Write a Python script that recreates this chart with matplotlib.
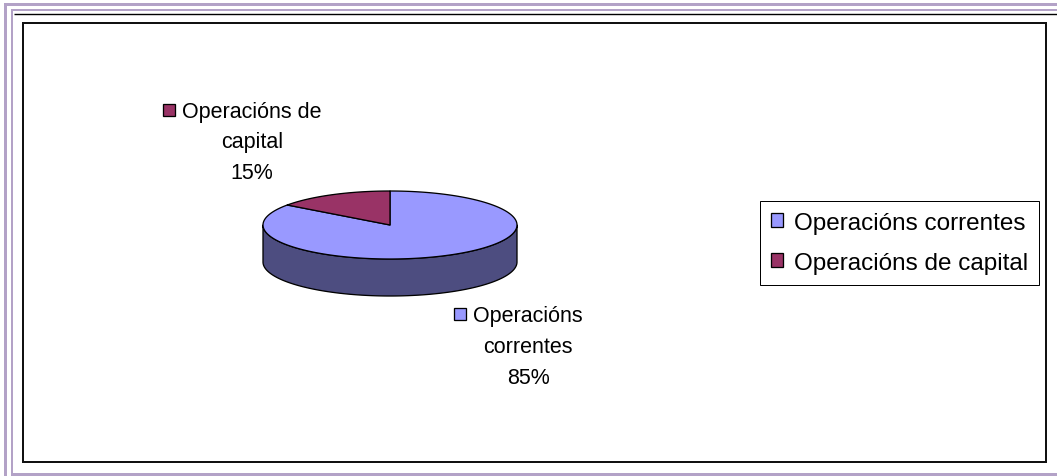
import textwrap
import numpy as np
import matplotlib
matplotlib.use("Agg")
import matplotlib.pyplot as plt
from matplotlib.patches import Polygon, Rectangle, Patch

# ---------------- data ----------------
categories = ["Operacións correntes", "Operacións de capital"]
values = [85, 15]
colors = ["#9999FF", "#993366"]

plt.rcParams["font.family"] = ["Liberation Sans", "DejaVu Sans"]

W, H = 1057, 477
fig = plt.figure(figsize=(W / 100, H / 100), dpi=100)
ax = fig.add_axes([0, 0, 1, 1])
ax.set_xlim(0, W)
ax.set_ylim(H, 0)
ax.axis("off")

PX = 0.72  # one pixel in points

# ---------------- decorative page border ----------------
purple = "#B3A2C7"
ax.add_patch(Rectangle((4, 4), W - 4, 3.2, color=purple, lw=0))
ax.add_patch(Rectangle((4, 4), 3.2, H - 4, color=purple, lw=0))
ax.add_patch(Rectangle((10.5, 9.5), W - 10.5, 2.2, color=purple, lw=0))
ax.add_patch(Rectangle((10.5, 9.5), 2.4, H - 9.5, color=purple, lw=0))
ax.add_patch(Rectangle((10.5, 474), W - 10.5, 3, color=purple, lw=0))
ax.plot([14, W], [14.5, 14.5], color="black", lw=1.4 * PX, solid_capstyle="butt")
# chart area frame
ax.add_patch(Rectangle((23, 24), 1023, 439, fill=False, ec="#111111", lw=2 * PX))

# ---------------- 3D pie ----------------
cx, cy, a, b, depth = 390, 226, 127, 34, 37
total = float(sum(values))
cum = np.concatenate([[0], np.cumsum(values)]) / total
starts = 90 - 360 * cum[:-1]
ends = 90 - 360 * cum[1:]


def ell(t_deg, dy=0.0):
    t = np.radians(t_deg)
    return cx + a * np.cos(t), cy - b * np.sin(t) + dy


def darker(c, f=0.5):
    r, g, bb = matplotlib.colors.to_rgb(c)
    return (r * f, g * f, bb * f)


edge_lw = 1.3 * PX
# side walls (front half only)
for s, e, col in zip(starts, ends, colors):
    lo, hi = min(s, e), max(s, e)
    for k in range(-2, 3):
        f0, f1 = -180 + 360 * k, 0 + 360 * k
        l2, h2 = max(lo, f0), min(hi, f1)
        if h2 - l2 <= 0:
            continue
        tt = np.linspace(l2, h2, 200)
        xt, yt = ell(tt)
        xb, yb = ell(tt[::-1], depth)
        poly = np.column_stack([np.concatenate([xt, xb]), np.concatenate([yt, yb])])
        ax.add_patch(Polygon(poly, closed=True, fc=darker(col), ec="black", lw=edge_lw,
                             joinstyle="round"))

# top faces
for s, e, col in zip(starts, ends, colors):
    tt = np.linspace(s, e, 300)
    xt, yt = ell(tt)
    poly = np.column_stack([np.concatenate([[cx], xt]), np.concatenate([[cy], yt])])
    ax.add_patch(Polygon(poly, closed=True, fc=col, ec="black", lw=edge_lw,
                         joinstyle="round"))

# ---------------- data labels ----------------
label_pos = [(528, 322, 31.0), (252, 118, 30.5)]  # center x, first baseline, line pitch
lab_fs = 15.5
renderer = fig.canvas.get_renderer()
for cat, v, col, (lx, ly, pitch) in zip(categories, values, colors, label_pos):
    lines = textwrap.wrap(cat, width=13) + [f"{round(100 * v / total):.0f}%"]
    first = None
    for i, line in enumerate(lines):
        t = ax.text(lx, ly + i * pitch, line, ha="center", va="baseline",
                    fontsize=lab_fs, color="black")
        if i == 0:
            first = t
    bb = first.get_window_extent(renderer=renderer)
    x0 = ax.transData.inverted().transform((bb.x0, bb.y0))[0]
    sq = 12
    ax.add_patch(Rectangle((x0 - 7.5 - sq, ly - 13), sq, sq, fc=col, ec="black",
                           lw=1.3 * PX))

# ---------------- legend ----------------
handles = [Patch(fc=c, ec="black", lw=1.3 * PX) for c in colors]
leg_fs = 17.5
fs_px = leg_fs / 0.72
leg = ax.legend(handles, categories, loc="upper left",
                bbox_to_anchor=(760 / W, 1 - 202 / H), bbox_transform=fig.transFigure,
                fontsize=leg_fs, frameon=True, fancybox=False, shadow=False,
                edgecolor="black", framealpha=1,
                handlelength=12 / fs_px, handleheight=12 / fs_px,
                handletextpad=11 / fs_px, borderpad=0.45, labelspacing=0.74,
                borderaxespad=0)
leg.get_frame().set_linewidth(1.0 * PX)

fig.savefig("out.png", dpi=100)
